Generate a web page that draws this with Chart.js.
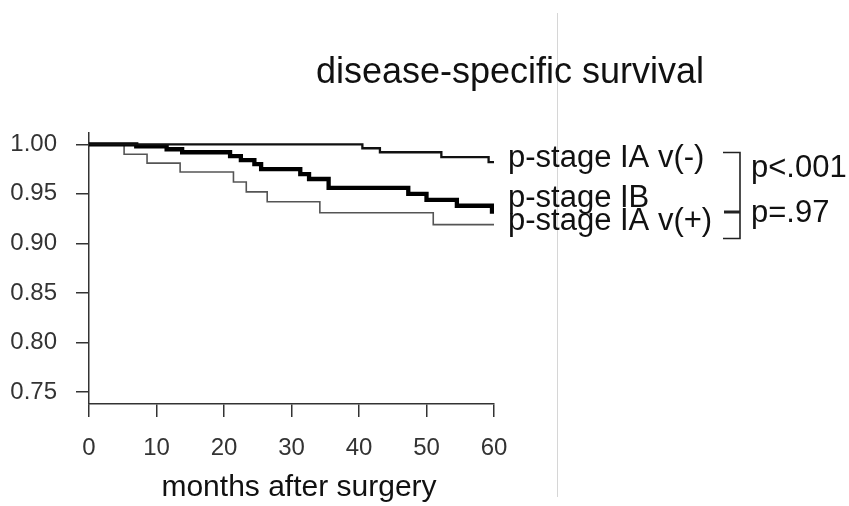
<!DOCTYPE html>
<html>
<head>
<meta charset="utf-8">
<script src="https://cdn.jsdelivr.net/npm/chart.js@4"></script>
<style>
  body { margin: 0; background: #fff; }
  #survChart { display: block; }
</style>
</head>
<body>
<canvas id="survChart" width="849" height="506"></canvas>
<script>
// tiempos (meses) y supervivencia de cada grupo
const timesIAneg = [0, 40.5, 43.1, 52.2, 59.2, 60];
const survIAneg  = [1.000, 0.996, 0.992, 0.987, 0.982, 0.982];

const timesIB = [0, 7, 11.5, 13.8, 20.9, 22.5, 24.5, 25.5, 31.3, 32.6, 35.5, 47.3, 50.0, 54.5, 59.7, 60];
const survIB  = [1.000, 0.998, 0.995, 0.992, 0.988, 0.984, 0.980, 0.975, 0.970, 0.965, 0.956, 0.950, 0.944, 0.938, 0.932, 0.932];

const timesIApos = [0, 5.2, 8.6, 13.5, 21.4, 23.3, 26.4, 34.2, 51.0, 60];
const survIApos  = [1.000, 0.990, 0.981, 0.972, 0.962, 0.952, 0.942, 0.931, 0.919, 0.919];

const groupLabels = ['p-stage IA v(-)', 'p-stage IB', 'p-stage IA v(+)'];
const pLabels = ['p<.001', 'p=.97'];

const xTicks = [0, 10, 20, 30, 40, 50, 60];
const yTicks = [0.75, 0.80, 0.85, 0.90, 0.95, 1.00];

const FONT = '"Liberation Sans", Arial, sans-serif';

function toPoints(times, surv) {
  return times.map((t, i) => ({ x: t, y: surv[i] }));
}

// textos, corchete y linea gris del lado derecho
const annotations = {
  id: 'annotations',
  afterDraw(chart) {
    const c = chart.ctx;
    const xs = chart.scales.x;
    c.save();

    // linea vertical gris de la diapositiva
    c.strokeStyle = '#d6d6d6';
    c.lineWidth = 1;
    c.beginPath();
    c.moveTo(557.5, 13);
    c.lineTo(557.5, 497);
    c.stroke();

    c.fillStyle = '#111';
    c.textAlign = 'center';
    c.textBaseline = 'middle';
    c.font = '36px ' + FONT;
    c.fillText('disease-specific survival', 510, 73);

    c.font = '30px ' + FONT;
    c.fillText('months after surgery', 299, 488);

    const lx = xs.getPixelForValue(60) + 14;
    c.textAlign = 'left';
    c.textBaseline = 'alphabetic';
    c.font = '31px ' + FONT;
    c.fillText(groupLabels[0], lx, 167);
    c.fillText(groupLabels[1], lx, 207);
    c.fillText(groupLabels[2], lx, 230);

    // corchete
    c.strokeStyle = '#222';
    c.lineWidth = 1.6;
    c.beginPath();
    c.moveTo(723, 152.5);
    c.lineTo(740, 152.5);
    c.lineTo(740, 238.5);
    c.lineTo(723, 238.5);
    c.stroke();
    c.lineWidth = 3;
    c.beginPath();
    c.moveTo(724, 212);
    c.lineTo(740, 212);
    c.stroke();

    c.fillText(pLabels[0], 751, 177);
    c.fillText(pLabels[1], 751, 222);
    c.restore();
  }
};

document.addEventListener('DOMContentLoaded', () => {
  const ctx = document.getElementById('survChart').getContext('2d');
  const survChart = new Chart(ctx, {
    type: 'line',
    data: {
      datasets: [
        {
          label: groupLabels[0],
          data: toPoints(timesIAneg, survIAneg),
          borderColor: '#111',
          borderWidth: 2.3
        },
        {
          label: groupLabels[1],
          data: toPoints(timesIB, survIB),
          borderColor: '#000',
          borderWidth: 4.3
        },
        {
          label: groupLabels[2],
          data: toPoints(timesIApos, survIApos),
          borderColor: '#555',
          borderWidth: 1.6
        }
      ]
    },
    options: {
      responsive: false,
      animation: false,
      datasets: {
        line: { stepped: 'before', pointRadius: 0, fill: false }
      },
      layout: {
        padding: { left: 0, right: 355, top: 133, bottom: 0 }
      },
      plugins: {
        legend: { display: false },
        tooltip: { enabled: false },
        title: { display: false }
      },
      scales: {
        x: {
          type: 'linear',
          min: 0,
          max: 60,
          afterBuildTicks: (scale) => { scale.ticks = xTicks.map(v => ({ value: v })); },
          afterFit: (scale) => { scale.height = 102; },
          grid: { drawOnChartArea: false, drawTicks: true, tickLength: 13, color: '#333', lineWidth: 1.5 },
          border: { display: true, color: '#333', width: 1.5 },
          ticks: {
            color: '#333',
            padding: 17,
            maxRotation: 0,
            font: { family: FONT, size: 24 }
          }
        },
        y: {
          type: 'linear',
          min: 0.738,
          max: 1.0114,
          afterBuildTicks: (scale) => { scale.ticks = yTicks.map(v => ({ value: v })); },
          afterFit: (scale) => { scale.width = 89; },
          grid: { drawOnChartArea: false, drawTicks: true, tickLength: 13, color: '#333', lineWidth: 1.5 },
          border: { display: true, color: '#333', width: 1.5 },
          ticks: {
            color: '#333',
            padding: 19,
            font: { family: FONT, size: 24 },
            callback: (v) => Number(v).toFixed(2)
          }
        }
      }
    },
    plugins: [annotations]
  });
});
</script>
</body>
</html>
